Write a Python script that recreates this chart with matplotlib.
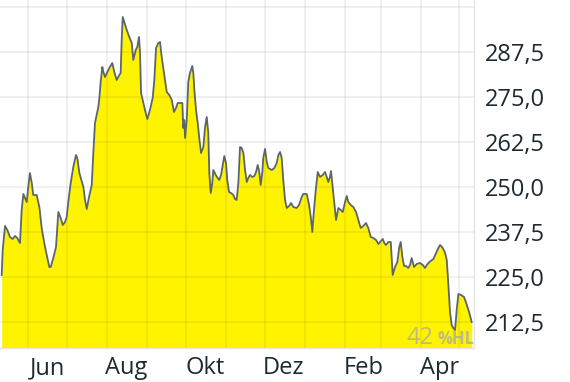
"""Yellow area price chart, one year, German month labels."""

import matplotlib

matplotlib.use("Agg")
import matplotlib.dates as mdates
import matplotlib.pyplot as plt
import numpy as np
from matplotlib.ticker import FuncFormatter


START = "2022-05-10"
END_DAYS = 367.3

# days after START, closing prices
days = [
    1.3, 2.1, 3.9, 5.7, 7.7, 9.8, 11.6, 13.4, 15.5, 16.8, 18.1, 19.4, 20.7, 21.9, 23.2,
    24.6, 25.8, 28.4, 30.5, 32.3, 34.3, 36.2, 38.2, 39.3, 41.3, 43.4, 45.2, 47.0, 48.6,
    50.4, 51.7, 52.9, 54.8, 56.8, 58.9, 59.9, 61.5, 64.6, 65.9, 67.2, 69.0, 71.1, 72.3,
    73.6, 74.9, 76.2, 77.0, 78.0, 79.3, 80.1, 81.4, 83.2, 85.2, 87.0, 88.6, 90.4, 92.5,
    93.5, 94.3, 95.1, 96.3, 98.2, 100.2, 102.1, 103.3, 105.2, 106.4, 107.7, 108.5, 109.3,
    111.1, 112.9, 114.2, 116.2, 118.3, 119.6, 120.9, 122.7, 124.0, 125.3, 127.1, 129.2,
    131.2, 133.1, 134.8, 136.4, 137.7, 139.5, 141.3, 142.0, 142.8, 143.4, 144.7, 145.9,
    147.2, 149.0, 149.8, 150.6, 151.9, 153.2, 154.4, 155.8, 157.6, 158.9, 160.2, 161.4,
    162.2, 163.3, 164.5, 165.3, 167.2, 168.7, 169.9, 171.3, 172.6, 173.8, 175.1, 176.1,
    177.5, 179.0, 180.8, 182.1, 183.4, 184.7, 186.0, 187.3, 188.6, 189.9, 191.2, 192.4,
    193.7, 195.5, 197.1, 198.4, 199.7, 200.9, 202.0, 203.3, 204.0, 205.4, 206.7, 207.9,
    210.6, 212.6, 214.4, 215.7, 217.0, 218.3, 219.5, 220.9, 222.2, 224.0, 225.5, 227.3,
    229.9, 231.7, 233.8, 235.0, 237.7, 239.5, 240.8, 242.0, 243.3, 244.7, 246.2, 248.0,
    250.1, 251.9, 253.2, 254.4, 255.7, 256.5, 257.8, 259.1, 260.4, 262.2, 264.0, 265.6,
    267.4, 268.7, 269.9, 271.8, 273.8, 275.9, 277.7, 279.5, 281.5, 283.6, 285.4, 287.3,
    289.3, 291.4, 293.2, 294.5, 296.6, 297.8, 299.1, 300.9, 302.8, 304.3, 306.1, 307.9,
    309.4, 310.5, 311.8, 313.1, 314.6, 316.4, 317.7, 319.0, 320.8, 322.9, 325.5, 327.6,
    329.4, 330.7, 332.7, 335.8, 337.9, 339.7, 341.0, 343.1, 344.9, 346.2, 347.4, 348.7,
    350.0, 351.3, 352.6, 353.9, 355.2, 357.3, 359.6, 361.5, 363.5, 365.5,
]
prices = [
    225.56, 232.5, 239.17, 238.06, 236.11, 235.56, 236.39, 235.83, 234.44, 243.61, 248.06,
    246.94, 245.83, 250.0, 253.89, 251.11, 247.78, 247.78, 244.44, 238.61, 234.44, 231.11,
    227.78, 227.78, 230.28, 233.33, 243.06, 241.39, 239.44, 240.28, 241.67, 245.83, 251.11,
    255.56, 258.89, 258.06, 253.89, 250.0, 246.39, 243.89, 247.22, 250.56, 259.44, 267.78,
    270.0, 272.22, 274.72, 279.17, 283.33, 281.94, 280.56, 281.94, 283.33, 284.44, 281.94,
    279.72, 281.11, 281.67, 290.83, 297.22, 295.83, 293.61, 291.67, 290.0, 285.28, 288.06,
    288.89, 291.67, 287.22, 276.11, 273.33, 270.56, 268.89, 271.39, 274.72, 279.72, 288.61,
    290.0, 290.28, 286.11, 281.67, 276.39, 275.56, 274.17, 270.83, 271.94, 273.33, 273.33,
    273.33, 266.39, 268.61, 263.61, 268.61, 279.17, 281.67, 283.61, 281.67, 276.94, 271.39,
    267.78, 263.61, 259.44, 261.11, 266.67, 269.44, 265.0, 253.89, 248.33, 251.11, 254.72,
    253.33, 252.5, 251.94, 253.33, 256.11, 258.61, 256.67, 251.94, 248.61, 248.33, 247.78,
    246.67, 246.39, 251.11, 261.11, 260.83, 259.44, 254.72, 251.39, 252.5, 253.33, 252.78,
    253.06, 254.17, 256.11, 254.17, 250.56, 254.17, 258.06, 260.56, 256.94, 255.28, 254.72,
    255.28, 256.67, 258.89, 259.72, 258.06, 251.94, 246.39, 244.17, 244.72, 245.56, 244.44,
    244.17, 245.0, 247.22, 248.06, 248.06, 245.0, 241.67, 237.5, 243.61, 249.17, 254.17,
    252.78, 253.33, 254.17, 252.78, 251.39, 252.78, 254.44, 250.0, 245.56, 240.83, 244.17,
    243.61, 243.06, 245.83, 247.5, 245.83, 245.0, 244.44, 243.06, 240.83, 238.61, 239.17,
    240.0, 238.61, 236.11, 235.83, 235.28, 234.17, 234.72, 235.56, 234.44, 233.89, 234.72,
    234.72, 225.56, 227.78, 229.17, 233.33, 234.72, 230.56, 228.06, 228.06, 227.5, 228.33,
    230.28, 227.78, 228.61, 228.89, 228.33, 227.5, 228.33, 229.17, 230.0, 231.67, 233.06,
    233.89, 233.06, 231.67, 229.72, 223.06, 215.28, 211.67, 210.83, 210.28, 215.83, 220.28,
    220.0, 219.44, 217.5, 215.28, 212.5,
]

y_ticks = [212.5, 225.0, 237.5, 250.0, 262.5, 275.0, 287.5, 300.0]
y_labeled = [212.5, 225.0, 237.5, 250.0, 262.5, 275.0, 287.5]
month_labels = {6: "Jun", 8: "Aug", 10: "Okt", 12: "Dez", 2: "Feb", 4: "Apr"}
badge_value = "42"
badge_unit = "%HL"

YELLOW = "#fff300"
LINE = "#5b656c"
TEXT = "#1d2a31"

plt.rcParams["font.family"] = ["Open Sans", "DejaVu Sans"]

start = mdates.date2num(np.datetime64(START))
x = start + np.array(days)
y = np.array(prices)
y_min, y_max = 205.28, 301.94

fig = plt.figure(figsize=(5.7, 3.82), dpi=100)
ax = fig.add_axes([0, 34 / 382, 474 / 570, 348 / 382])

ax.fill_between(x, y, y_min, color=YELLOW, linewidth=0, zorder=1)
ax.plot(x, y, color=LINE, linewidth=1.3, zorder=2)

ax.set_xlim(start, start + END_DAYS)
ax.set_ylim(y_min, y_max)

ax.xaxis.set_minor_locator(mdates.MonthLocator())
ax.xaxis.set_major_locator(mdates.MonthLocator(bymonth=list(month_labels), bymonthday=16))
ax.xaxis.set_major_formatter(
    FuncFormatter(lambda v, pos: month_labels.get(mdates.num2date(v).month, ""))
)
ax.set_yticks(y_ticks)
ax.yaxis.set_major_formatter(
    FuncFormatter(lambda v, pos: f"{v:.1f}".replace(".", ",") if v in y_labeled else "")
)
ax.yaxis.tick_right()

ax.set_axisbelow("line")
grid_kw = dict(color="black", alpha=0.065, linewidth=1.3)
ax.grid(True, axis="x", which="minor", **grid_kw)
ax.grid(True, axis="y", which="major", **grid_kw)

ax.tick_params(axis="both", which="both", length=0, labelsize=17, labelcolor=TEXT)
ax.tick_params(axis="x", pad=6)
ax.tick_params(axis="y", pad=8)

for side in ("top", "left"):
    ax.spines[side].set_visible(False)
for side in ("bottom", "right"):
    ax.spines[side].set_color("#e4e4e4")
    ax.spines[side].set_linewidth(1.0)

fig.text(433 / 570, 38 / 382, badge_value, ha="right", va="baseline",
         fontsize=17, color="#a8a8a8", alpha=0.75)
fig.text(437 / 570, 38 / 382, badge_unit, ha="left", va="baseline",
         fontsize=12, fontweight="bold", color="#a8a8a8", alpha=0.75)

fig.savefig("out.png", dpi=100)
plt.close(fig)
